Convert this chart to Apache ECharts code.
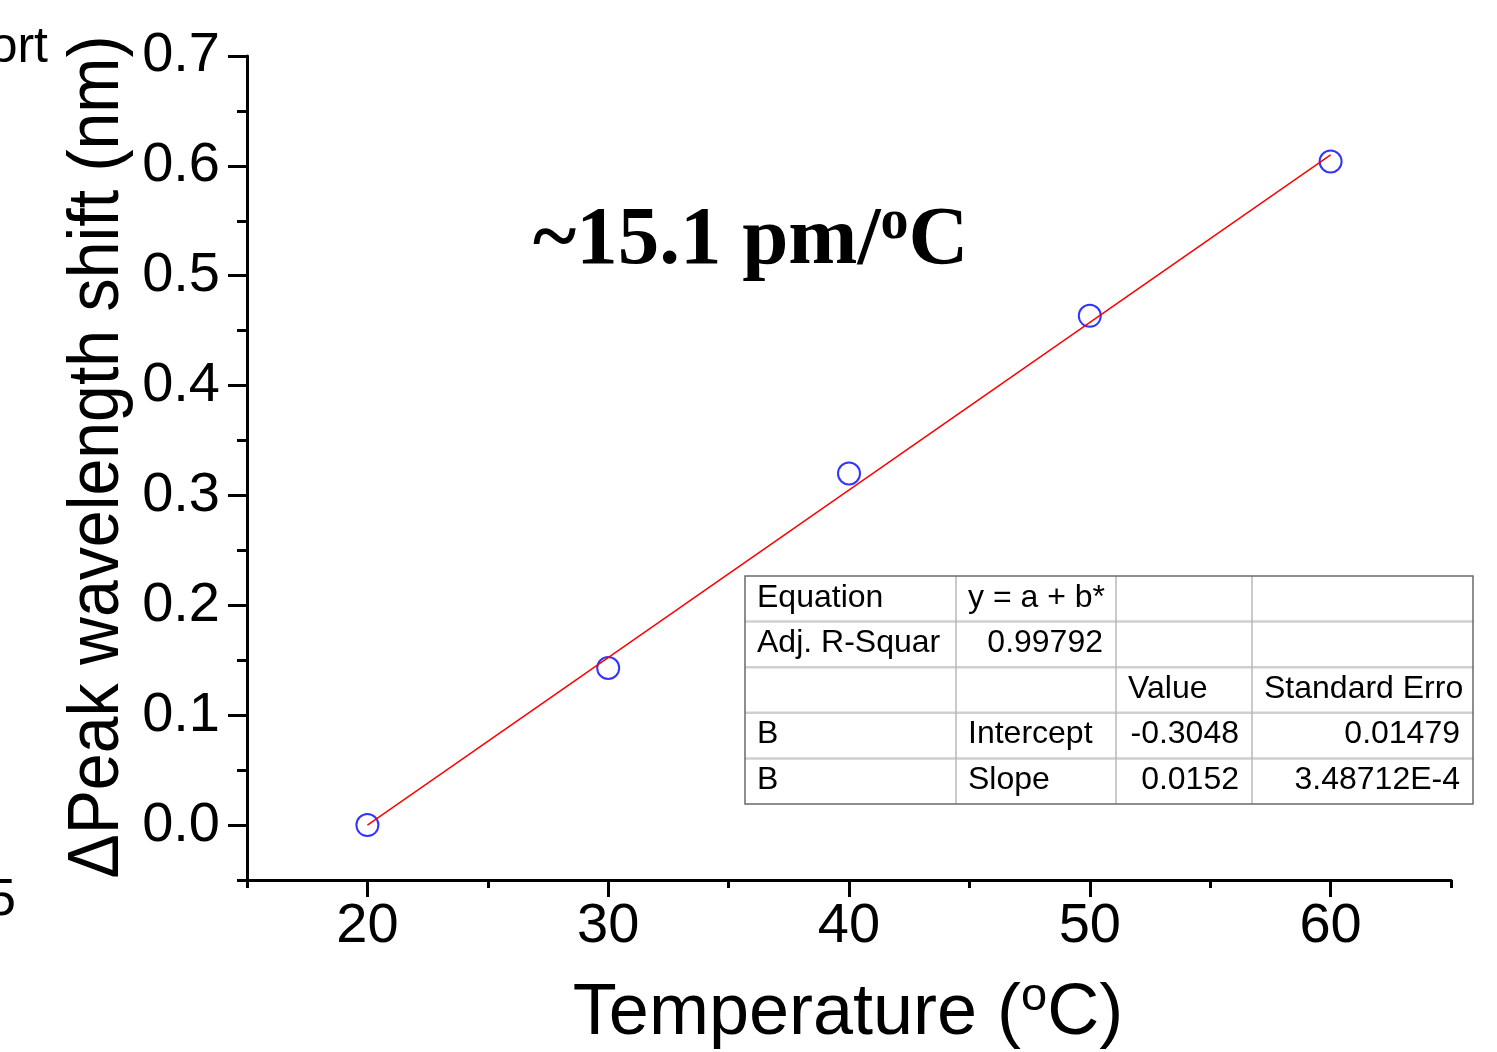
<!DOCTYPE html>
<html>
<head>
<meta charset="utf-8">
<script src="https://cdn.jsdelivr.net/npm/echarts@6/dist/echarts.min.js"></script>
<style>
html,body{margin:0;padding:0;background:#fff;}
#c{width:1497px;height:1052px;}
</style>
</head>
<body>
<div id="c"></div>
<script>
// ---- data ----
var tempC = [20, 30, 40, 50, 60];
var peakShift = [0.0, 0.143, 0.320, 0.4635, 0.604];
var fitX = [20, 60];
var fitY = [0.0, 0.61];
var xMajorTicks = [20, 30, 40, 50, 60];
var yMajorTicks = [0.0, 0.1, 0.2, 0.3, 0.4, 0.5, 0.6, 0.7];
var tableRows = [
  ['Equation', 'y = a + b*', '', ''],
  ['Adj. R-Squar', '0.99792', '', ''],
  ['', '', 'Value', 'Standard Erro'],
  ['B', 'Intercept', '-0.3048', '0.01479'],
  ['B', 'Slope', '0.0152', '3.48712E-4']
];
var slopeText = '~15.1 pm/';
var xName = 'Temperature (';
var yName = '\u0394Peak wavelength shift (nm)';

// ---- layout ----
var SANS = '"Liberation Sans", Arial, sans-serif';
var SERIF = '"Liberation Serif", "Times New Roman", serif';
var tbl = {x: 745, y: 576, colW: [211, 160, 136, 221], rowH: 45.6, font: 32};

function isNum(s){ return /^-?[\d.]+(E-?\d+)?$/.test(s); }

var graphics = [];
// table
(function(){
  var totalW = tbl.colW.reduce(function(a,b){return a+b;},0);
  var totalH = tbl.rowH * tableRows.length;
  graphics.push({type:'rect', shape:{x:tbl.x, y:tbl.y, width:totalW, height:totalH},
    style:{fill:'#fff', stroke:'none'}, z:10});
  for (var r = 1; r < tableRows.length; r++) {
    var yy = tbl.y + r*tbl.rowH;
    graphics.push({type:'line', shape:{x1:tbl.x, y1:yy, x2:tbl.x+totalW, y2:yy},
      style:{stroke:'#cfcfcf', lineWidth:2.5}, z:11});
  }
  var cx = tbl.x;
  for (var c = 0; c < tbl.colW.length - 1; c++) {
    cx += tbl.colW[c];
    graphics.push({type:'line', shape:{x1:cx, y1:tbl.y, x2:cx, y2:tbl.y+totalH},
      style:{stroke:'#b8b8b8', lineWidth:1.5}, z:11});
  }
  graphics.push({type:'rect', shape:{x:tbl.x, y:tbl.y, width:totalW, height:totalH},
    style:{fill:'none', stroke:'#6a6a6a', lineWidth:1.5}, z:12});
  for (var r2 = 0; r2 < tableRows.length; r2++) {
    var left = tbl.x;
    for (var c2 = 0; c2 < tableRows[r2].length; c2++) {
      var s = tableRows[r2][c2];
      if (s) {
        var num = isNum(s);
        graphics.push({type:'text', z:13,
          x: num ? left + tbl.colW[c2] - 13 : left + 12,
          y: tbl.y + (r2 + 0.5)*tbl.rowH - 1,
          style:{text:s, fill:'#000', font: tbl.font + 'px ' + SANS,
            textAlign: num ? 'right' : 'left', textVerticalAlign:'middle'}});
      }
      left += tbl.colW[c2];
    }
  }
})();

// y axis name
graphics.push({type:'text', x:98, y:457, rotation:Math.PI/2, scaleX:0.92,
  style:{text:yName, fill:'#000', font:'72px ' + SANS, textAlign:'center', textVerticalAlign:'middle'}});
// x axis name
graphics.push({type:'text', x:848, y:1014,
  style:{text:'{t|' + xName + '}{s|o}{t|C)}', fill:'#000', textAlign:'center', textVerticalAlign:'middle',
    rich:{t:{fontSize:72, fontFamily:SANS, fill:'#000', lineHeight:80},
          s:{fontSize:47, fontFamily:SANS, fill:'#000', verticalAlign:'top', lineHeight:60}}}});
// slope annotation
graphics.push({type:'text', x:533, y:242,
  style:{text:'{a|' + slopeText + '}{s|o}{a|C}', fill:'#000', textAlign:'left', textVerticalAlign:'middle',
    rich:{a:{fontSize:83, fontFamily:SERIF, fontWeight:'bold', fill:'#000', lineHeight:92},
          s:{fontSize:56, fontFamily:SERIF, fontWeight:'bold', fill:'#000', verticalAlign:'top', lineHeight:68}}}});
// cropped remnants from neighbouring panel
graphics.push({type:'text', x:48, y:73, style:{text:'ort', fill:'#000', font:'50px ' + SANS, textAlign:'right', textVerticalAlign:'bottom'}});
graphics.push({type:'text', x:16, y:927, style:{text:'5', fill:'#000', font:'52px ' + SANS, textAlign:'right', textVerticalAlign:'bottom'}});

function near(v, step){ return Math.abs(v/step - Math.round(v/step)) < 1e-6; }

var axisLineStyle = {color:'#000', width:3};
var option = {
  animation:false,
  backgroundColor:'#fff',
  grid:{left:247, right:46, top:56, bottom:172, containLabel:false},
  xAxis:[
    {type:'value', min:15, max:65, interval:5, position:'bottom',
     axisLine:{show:true, onZero:false, lineStyle:axisLineStyle},
     axisTick:{show:true, length:8, lineStyle:{color:'#000', width:3}},
     axisLabel:{show:true, margin:19, fontSize:56, fontFamily:SANS, color:'#000',
       formatter:function(v){ return near(v,10) ? String(v) : ''; }},
     splitLine:{show:false}},
    {type:'value', min:15, max:65, interval:5, position:'bottom',
     axisLine:{show:false, onZero:false},
     axisTick:{show:true, length:17, customValues:xMajorTicks, lineStyle:{color:'#000', width:3}},
     axisLabel:{show:false}, splitLine:{show:false}}
  ],
  yAxis:[
    {type:'value', min:-0.05, max:0.7, interval:0.05, position:'left',
     axisLine:{show:true, onZero:false, lineStyle:axisLineStyle},
     axisTick:{show:true, length:10, lineStyle:{color:'#000', width:3}},
     axisLabel:{show:true, margin:27, fontSize:56, fontFamily:SANS, color:'#000',
       formatter:function(v){ return near(v,0.1) ? v.toFixed(1) : ''; }},
     splitLine:{show:false}},
    {type:'value', min:-0.05, max:0.7, interval:0.05, position:'left',
     axisLine:{show:false, onZero:false},
     axisTick:{show:true, length:19, customValues:yMajorTicks, lineStyle:{color:'#000', width:3}},
     axisLabel:{show:false}, splitLine:{show:false}}
  ],
  series:[
    {type:'scatter', xAxisIndex:0, yAxisIndex:0,
     data: tempC.map(function(x,i){ return [x, peakShift[i]]; }),
     symbol:'circle', symbolSize:22,
     itemStyle:{color:'rgba(0,0,0,0)', borderColor:'#0000ff', borderWidth:2}, z:3},
    {type:'line', xAxisIndex:0, yAxisIndex:0,
     data: fitX.map(function(x,i){ return [x, fitY[i]]; }),
     symbol:'none', lineStyle:{color:'#ff0000', width:1.5}, z:4}
  ],
  graphic: graphics
};
var chart = echarts.init(document.getElementById('c'), null, {renderer:'canvas'});
chart.setOption(option);
</script>
</body>
</html>
